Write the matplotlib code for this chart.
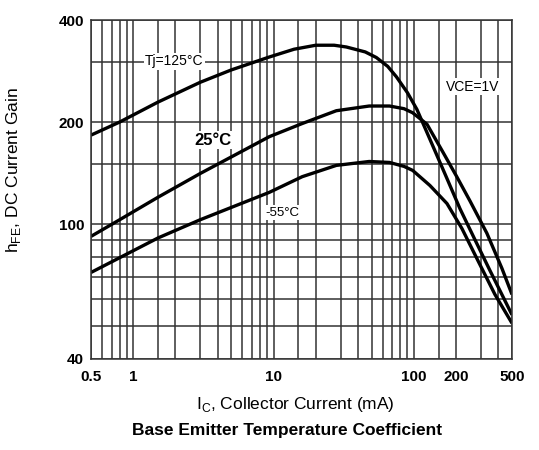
import matplotlib
matplotlib.use("Agg")
import matplotlib.pyplot as plt

plt.rcParams['font.family'] = ['Liberation Sans', 'DejaVu Sans']

# ---- data ----
ic_125 = [0.5, 0.8, 1.5, 3.0, 5.0, 9.3, 14, 20, 27, 33, 45, 54, 65, 75, 90, 105, 130, 166, 213, 272, 348, 500]
hfe_125 = [183, 200, 229, 262, 285, 311, 328, 337, 337, 333, 322, 310, 292, 272, 244, 218, 178, 141, 111, 90, 73, 54]

ic_25 = [0.5, 0.8, 1.5, 3.0, 9.3, 16, 28, 48, 67, 85, 98, 124, 161, 202, 251, 331, 424, 500]
hfe_25 = [92, 103, 120, 141, 181, 198, 216, 223, 223, 219, 213, 197, 163, 138, 117, 94, 74, 62]

ic_m55 = [0.5, 1.5, 3.0, 9.3, 16, 28, 48, 67, 85, 98, 130, 172, 220, 286, 378, 500]
hfe_m55 = [72, 91, 103, 124, 138, 149, 153, 152, 148, 144, 130, 115, 97, 78, 62, 51]

x_major = [0.5, 1, 10, 100, 200, 500]
x_major_labels = ["0.5", "1", "10", "100", "200", "500"]
x_minor = [0.6, 0.7, 0.8, 0.9, 1.5, 2, 3, 4, 5, 6, 7, 8, 9,
           15, 20, 30, 40, 50, 60, 70, 80, 90, 150, 300, 400]
y_major = [40, 100, 200, 400]
y_major_labels = ["40", "100", "200", "400"]
y_minor = [50, 60, 70, 80, 90, 150, 300]

fig = plt.figure(figsize=(5.39, 4.5), dpi=100)
ax = fig.add_axes([91/539, 1-359/450, (512-91)/539, (359-20)/450])
ax.set_xscale('log')
ax.set_yscale('log')
ax.set_xlim(0.5, 500)
ax.set_ylim(40, 400)

ax.set_xticks(x_major)
ax.set_xticklabels(x_major_labels)
ax.set_xticks(x_minor, minor=True)
ax.set_xticklabels([], minor=True)
ax.set_yticks(y_major)
ax.set_yticklabels(y_major_labels)
ax.set_yticks(y_minor, minor=True)
ax.set_yticklabels([], minor=True)

ax.tick_params(which='both', length=0)
ax.tick_params(axis='x', pad=8, labelsize=11)
ax.tick_params(axis='y', pad=5, labelsize=11)
for lab in ax.get_xticklabels() + ax.get_yticklabels():
    lab.set_fontweight('bold')

ax.grid(True, which='both', color='#333333', linewidth=1.1)
ax.set_axisbelow(True)
for sp in ax.spines.values():
    sp.set_color('#333333')
    sp.set_linewidth(1.1)

lw = 2.4
for xs, ys in ((ic_125, hfe_125), (ic_25, hfe_25), (ic_m55, hfe_m55)):
    ax.plot(xs, ys, color='black', linewidth=lw, solid_capstyle='butt',
            solid_joinstyle='round')

bbox = dict(facecolor='white', edgecolor='none', pad=1.0)
ax.text(1.96, 302, "Tj=125°C", fontsize=10, ha='center', va='center', bbox=bbox)
ax.text(3.72, 177, "25°C", fontsize=12, fontweight='bold', ha='center', va='center', bbox=bbox)
ax.text(11.6, 108, "-55°C", fontsize=9.5, ha='center', va='center', bbox=bbox)
ax.text(263, 254, "VCE=1V", fontsize=10, ha='center', va='center', bbox=bbox)

fig.text(295/539, 1-405/450, r"I$_\mathregular{C}$, Collector Current (mA)", fontsize=12.5,
         ha='center', va='center')
fig.text(287/539, 1-430/450, "Base Emitter Temperature Coefficient", fontsize=12.5,
         fontweight='bold', ha='center', va='center')
fig.text(14/539, 1-170/450, r"h$_\mathregular{FE}$, DC Current Gain", fontsize=12.5,
         rotation=90, ha='center', va='center')

fig.savefig("out.png", dpi=100)
